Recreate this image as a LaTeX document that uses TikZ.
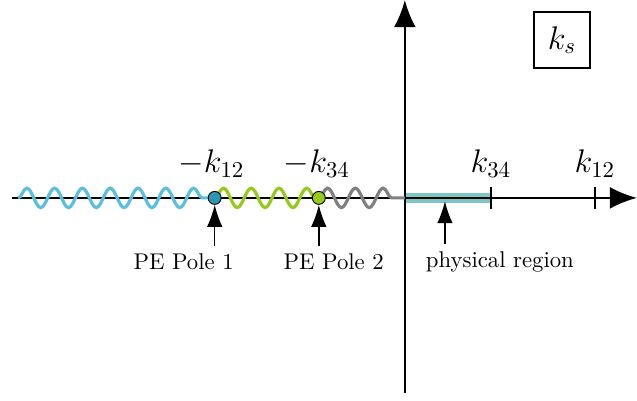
\documentclass[tikz,border=0pt]{standalone}
\usetikzlibrary{arrows.meta,decorations.pathmorphing,positioning}
\definecolor{wavecyan}{RGB}{90,190,220}
\definecolor{polecyan}{RGB}{45,150,180}
\definecolor{wavegreen}{RGB}{150,200,30}
\definecolor{physteal}{RGB}{125,198,196}
\begin{document}
\begin{tikzpicture}[
    axis/.style={line width=1.1pt,-{Latex[length=4.2mm,width=3.4mm]}},
    wave/.style={line width=1.4pt,decorate,decoration={snake,segment length=4.3mm,amplitude=1.5mm}},
    pole/.style={circle,draw,thin,fill=#1,inner sep=0pt,minimum size=2mm},
    pointer/.style={line width=0.6pt,-{Latex[length=3.4mm,width=2.4mm]}},
    lab/.style={font=\Large},
  ]
  \useasboundingbox (-6.26,-3.14) rectangle (3.59,3.06);

  % physical region
  \draw[physteal,line width=4.4pt] (0,0) -- (1.33,0);

  % axes
  \draw[axis] (-6.07,0) -- (3.59,0);
  \draw[axis] (0,-3.01) -- (0,3.06);

  % branch cuts
  \draw[wave,wavecyan] (-5.98,0) -- (-2.94,0);
  \draw[wave,wavegreen] (-2.94,0) -- (-1.33,0);
  \draw[wave,gray] (-1.33,0) -- (0,0);

  % poles
  \node[pole=polecyan] (p1) at (-2.94,0) {};
  \node[pole=wavegreen] (p2) at (-1.33,0) {};
  \node[lab] (mk12) at (-2.99,0.53) {$-k_{12}$};
  \node[lab] (mk34) at (-1.36,0.53) {$-k_{34}$};

  % ticks
  \coordinate (t34) at (1.33,0);
  \coordinate (t12) at (2.94,0);
  \foreach \t in {t34,t12}
    \draw[line width=1.1pt] ([yshift=1.7mm]\t) -- ([yshift=-1.7mm]\t);
  \node[lab] (k34) at (1.33,0.53) {$k_{34}$};
  \node[lab] (k12) at (2.94,0.53) {$k_{12}$};

  % pointers
  \node (lab1) at (-3.42,-0.99) {PE Pole 1};
  \node (lab2) at (-1.10,-0.99) {PE Pole 2};
  \node (lab3) at (1.47,-0.99) {physical region};
  \coordinate (phys) at (0.62,-0.05);
  \draw[pointer] (p1 |- lab1.north) -- (p1.south);
  \draw[pointer] (p2 |- lab2.north) -- (p2.south);
  \draw[pointer] (phys |- lab3.north) -- (phys);

  \node[draw,line width=1.1pt,minimum size=0.87cm] (ks) at (2.43,2.44) {\Large $k_s$};
\end{tikzpicture}
\end{document}
